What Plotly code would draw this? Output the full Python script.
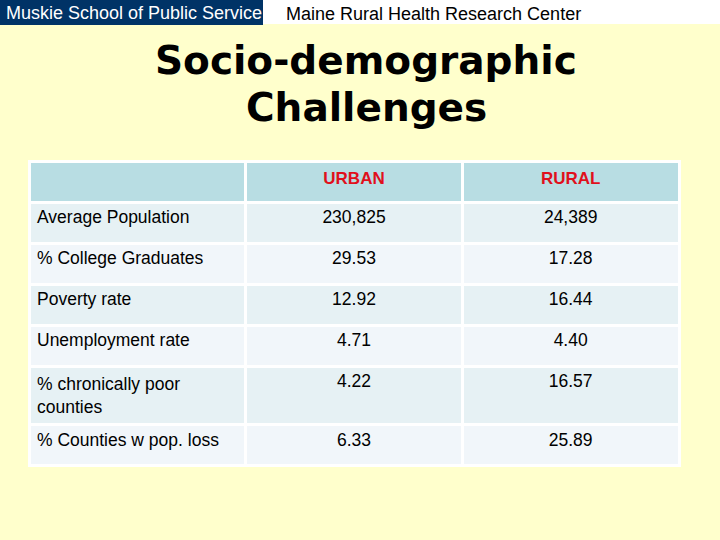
import plotly.graph_objects as go

# ---- data ----
row_labels = ["Average Population", "% College Graduates", "Poverty rate",
              "Unemployment rate", "% chronically poor<br>counties",
              "% Counties w pop. loss"]
urban = ["230,825", "29.53", "12.92", "4.71", "4.22", "6.33"]
rural = ["24,389", "17.28", "16.44", "4.40", "16.57", "25.89"]
headers = ["", "URBAN", "RURAL"]

W, H = 720, 540
BG = "#FFFFCC"
odd, even = "#E6F1F4", "#F1F6FA"
row_fill = [odd if i % 2 == 0 else even for i in range(len(row_labels))]
FONT = "Liberation Sans, Arial"

fig = go.Figure(go.Table(
    domain=dict(x=[29 / W, 679 / W], y=[0.0, 1 - 161 / H]),
    columnwidth=[1, 1, 1],
    header=dict(
        values=[f"<b>{h}</b>" if h else "" for h in headers],
        fill_color="#B8DDE3",
        line=dict(color="white", width=3),
        align="center",
        font=dict(family=FONT, size=17, color="#E0101C"),
        height=41,
    ),
    cells=dict(
        values=[row_labels, urban, rural],
        fill_color=[row_fill, row_fill, row_fill],
        line=dict(color="white", width=3),
        align=["left", "center", "center"],
        font=dict(family=FONT, size=17.5, color="black"),
        height=41,
    ),
))

fig.update_layout(
    width=W, height=H,
    margin=dict(l=0, r=0, t=0, b=0),
    paper_bgcolor=BG,
    plot_bgcolor=BG,
    shapes=[
        dict(type="rect", xref="paper", yref="paper", x0=0, x1=1,
             y0=1 - 24 / H, y1=1, fillcolor="white", line=dict(width=0),
             layer="below"),
        dict(type="rect", xref="paper", yref="paper", x0=0, x1=263 / W,
             y0=1 - 25 / H, y1=1, fillcolor="#003366", line=dict(width=0),
             layer="below"),
    ],
    annotations=[
        dict(text="Muskie School of Public Service", xref="paper", yref="paper",
             x=4 / W, y=1 - 13 / H, xanchor="left", yanchor="middle",
             showarrow=False,
             font=dict(family=FONT, size=18, color="white")),
        dict(text="Maine Rural Health Research Center", xref="paper", yref="paper",
             x=284 / W, y=1 - 14 / H, xanchor="left", yanchor="middle",
             showarrow=False,
             font=dict(family=FONT, size=18, color="black")),
        dict(text="<b>Socio-demographic</b>", xref="paper", yref="paper",
             x=366 / W, y=1 - 60 / H, xanchor="center", yanchor="middle",
             showarrow=False,
             font=dict(family="DejaVu Sans", size=39, color="black")),
        dict(text="<b>Challenges</b>", xref="paper", yref="paper",
             x=366 / W, y=1 - 107 / H, xanchor="center", yanchor="middle",
             showarrow=False,
             font=dict(family="DejaVu Sans", size=39, color="black")),
    ],
)

fig.write_html(
    "out.html",
    config={"displayModeBar": False},
    post_script="document.body.style.margin='0';document.body.style.background='#FFFFCC';",
)
